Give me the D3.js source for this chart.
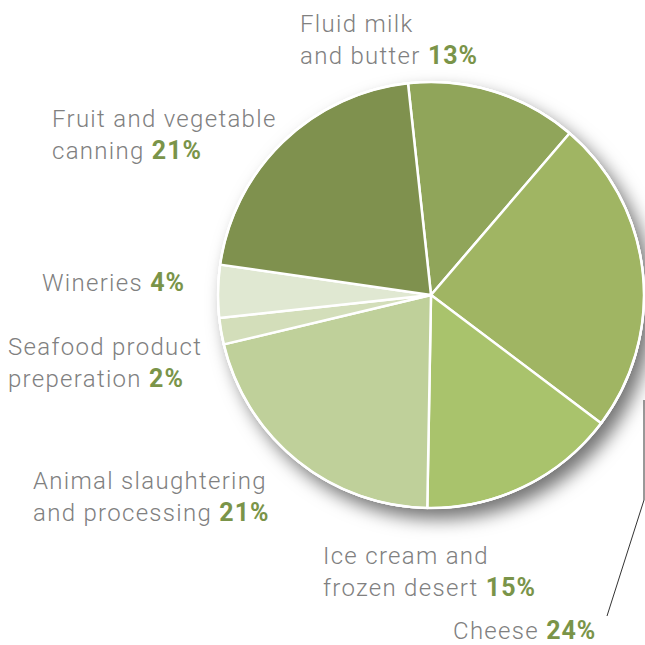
<!DOCTYPE html>
<html>
<head>
<meta charset="utf-8">
<script src="https://d3js.org/d3.v7.min.js"></script>
<style>
  body { margin: 0; background: #fff; }
  svg { display: block; }
</style>
</head>
<body>
<script>

// slices, clockwise from the top
var categories = ["Fluid milk and butter", "Cheese", "Ice cream and frozen desert",
                  "Animal slaughtering and processing", "Seafood product preperation",
                  "Wineries", "Fruit and vegetable canning"];
var shares = [13, 24, 15, 21, 2, 4, 21];
var colors = ["#90a55a", "#a0b563", "#a9c36c", "#bfd09a", "#d3deba", "#e0e8d2", "#7f914e"];

// label text lines (last line gets the percentage)
var labelLines = [
  ["Fluid milk", "and butter"],
  ["Cheese"],
  ["Ice cream and", "frozen desert"],
  ["Animal slaughtering", "and processing"],
  ["Seafood product", "preperation"],
  ["Wineries"],
  ["Fruit and vegetable", "canning"]
];
// where each label block starts (x, first baseline)
var labelAt = [[300, 32], [453, 639], [323, 564], [33, 489], [8, 355], [42, 291], [52, 127]];

var width = 645, height = 645;
var cx = 431, cy = 295, radius = 213;
var lineH = 32;

var svg = d3.select("body").append("svg")
    .attr("width", width)
    .attr("height", height);

var defs = svg.append("defs");
var f = defs.append("filter").attr("id", "shadow")
    .attr("x", "-20%").attr("y", "-20%").attr("width", "150%").attr("height", "150%");
f.append("feDropShadow")
    .attr("dx", 8).attr("dy", 10)
    .attr("stdDeviation", 9)
    .attr("flood-color", "#000")
    .attr("flood-opacity", 0.55);

var pie = d3.pie().sort(null)
    .startAngle(-6.2 * Math.PI / 180)
    .endAngle(2 * Math.PI - 6.2 * Math.PI / 180);
var arc = d3.arc().innerRadius(0).outerRadius(radius);

var g = svg.append("g").attr("transform", "translate(" + cx + "," + cy + ")");

// shadow disc under the pie
g.append("circle").attr("r", radius + 1).attr("fill", "#fff").attr("filter", "url(#shadow)");

g.selectAll("path.slice")
  .data(pie(shares))
  .enter().append("path")
    .attr("class", "slice")
    .attr("d", arc)
    .attr("fill", function(d, i) { return colors[i]; })
    .attr("stroke", "#fff")
    .attr("stroke-width", 2.5)
    .attr("stroke-linejoin", "round");

g.append("circle").attr("r", radius).attr("fill", "none")
    .attr("stroke", "#fff").attr("stroke-width", 2);

// leader line for cheese
svg.append("polyline")
    .attr("points", "644,400 644,500 607,616")
    .attr("fill", "none")
    .attr("stroke", "#333")
    .attr("stroke-width", 1);

// labels
var labels = svg.append("g")
    .attr("font-family", "Roboto, 'Open Sans', sans-serif")
    .attr("font-size", "24px");

labelLines.forEach(function(lines, i) {
  var t = labels.append("text")
      .attr("x", labelAt[i][0])
      .attr("y", labelAt[i][1])
      .attr("fill", "#808080")
      .attr("font-weight", 300)
      .attr("letter-spacing", "1.3px");
  lines.forEach(function(s, j) {
    t.append("tspan")
        .attr("x", labelAt[i][0])
        .attr("dy", j == 0 ? 0 : lineH)
        .text(s);
    if (j == lines.length - 1) {
      t.append("tspan")
          .attr("fill", "#7a9449")
          .attr("font-weight", 700)
          .attr("font-size", "25px")
          .attr("letter-spacing", "1px")
          .text(" " + shares[i] + "%");
    }
  });
});

</script>
</body>
</html>
